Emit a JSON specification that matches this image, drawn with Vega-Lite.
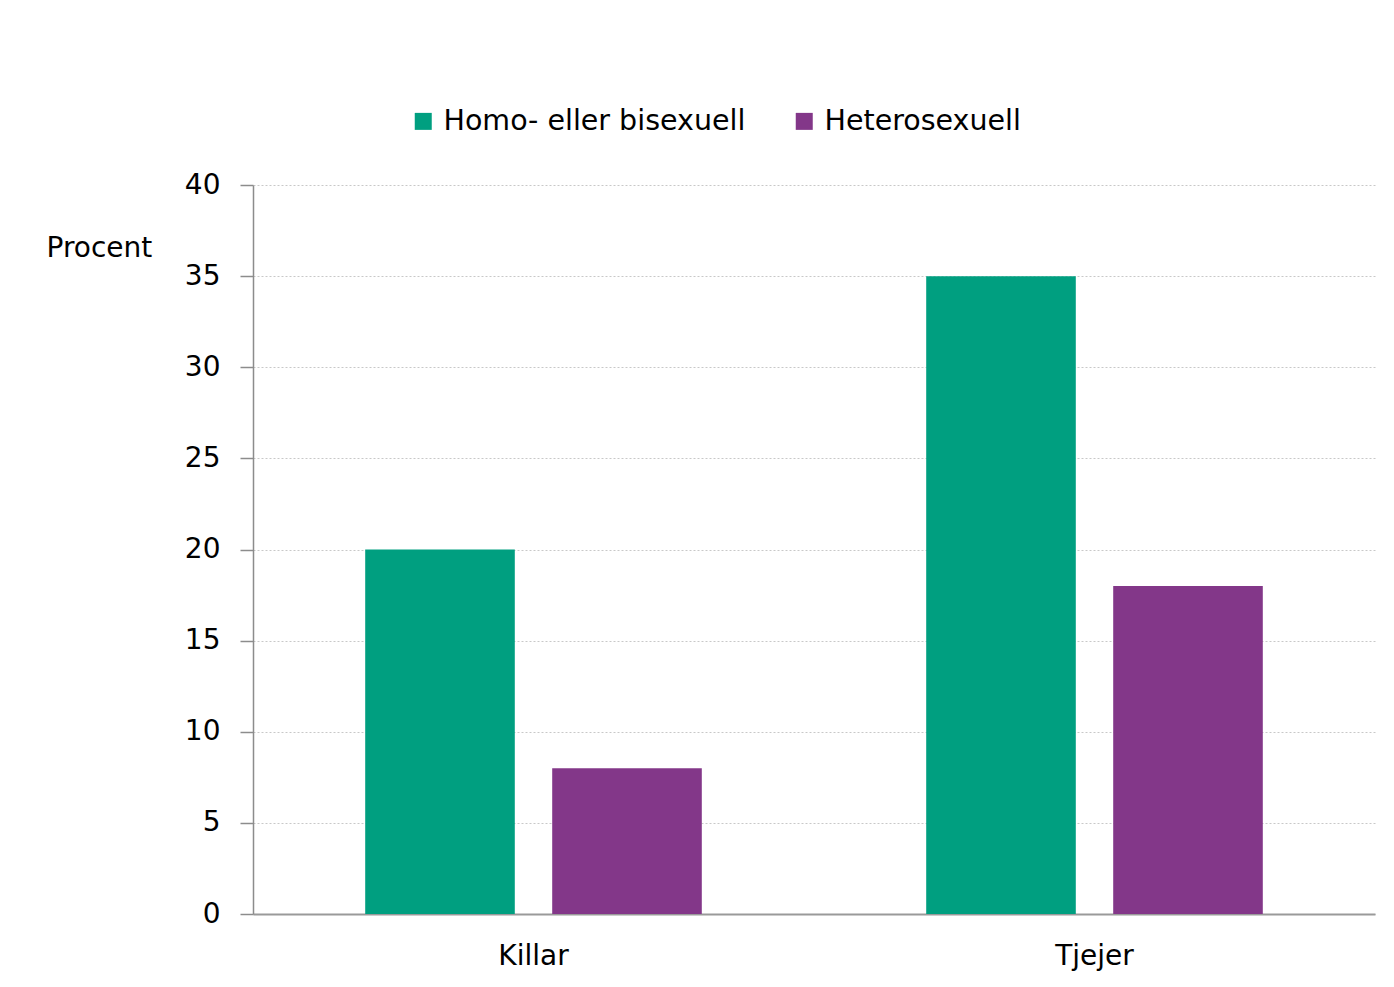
{
  "$schema": "https://vega.github.io/schema/vega-lite/v6.json",
  "width": 1122,
  "height": 729,
  "autosize": {"type": "none"},
  "padding": {"left": 253, "top": 185, "right": 19, "bottom": 73},
  "background": "white",
  "config": {
    "font": "DejaVu Sans",
    "view": {"stroke": null}
  },
  "data": {
    "values": [
      {"kon": "Killar", "grupp": "Homo- eller bisexuell", "procent": 20},
      {"kon": "Killar", "grupp": "Heterosexuell", "procent": 8},
      {"kon": "Tjejer", "grupp": "Homo- eller bisexuell", "procent": 35},
      {"kon": "Tjejer", "grupp": "Heterosexuell", "procent": 18}
    ]
  },
  "mark": {"type": "bar"},
  "encoding": {
    "x": {
      "field": "kon",
      "type": "nominal",
      "sort": ["Killar", "Tjejer"],
      "scale": {"paddingInner": 0.4, "paddingOuter": 0.2},
      "axis": {
        "title": null,
        "labelAngle": 0,
        "labelFontSize": 28,
        "labelColor": "#000000",
        "labelPadding": 28,
        "ticks": false,
        "domainColor": "#9a9a9a",
        "domainWidth": 2,
        "grid": false
      }
    },
    "xOffset": {
      "field": "grupp",
      "type": "nominal",
      "sort": ["Homo- eller bisexuell", "Heterosexuell"],
      "scale": {"paddingInner": 0.2, "paddingOuter": 0}
    },
    "y": {
      "field": "procent",
      "type": "quantitative",
      "scale": {"domain": [0, 40], "nice": false},
      "axis": {
        "title": "Procent",
        "titleAngle": 0,
        "titleAlign": "left",
        "titleBaseline": "middle",
        "titleX": -207,
        "titleY": 63,
        "titleFontSize": 28,
        "titleFontWeight": "normal",
        "titleColor": "#000000",
        "values": [0, 5, 10, 15, 20, 25, 30, 35, 40],
        "labelFontSize": 28,
        "labelColor": "#000000",
        "labelPadding": 20,
        "tickSize": 13,
        "tickColor": "#8c8c8c",
        "tickWidth": 1.5,
        "domainColor": "#8c8c8c",
        "domainWidth": 1.5,
        "grid": true,
        "gridColor": "#c8c8c8",
        "gridDash": [2, 2],
        "gridWidth": 1
      }
    },
    "color": {
      "field": "grupp",
      "type": "nominal",
      "scale": {
        "domain": ["Homo- eller bisexuell", "Heterosexuell"],
        "range": ["#009f80", "#833789"]
      },
      "legend": {
        "title": null,
        "orient": "none",
        "direction": "horizontal",
        "legendX": 156,
        "legendY": -78,
        "symbolType": "square",
        "symbolSize": 289,
        "symbolStrokeWidth": 0,
        "symbolOpacity": 1,
        "labelFontSize": 28.5,
        "labelColor": "#000000",
        "labelOffset": 6,
        "columnPadding": 44,
        "labelLimit": 600
      }
    }
  }
}
